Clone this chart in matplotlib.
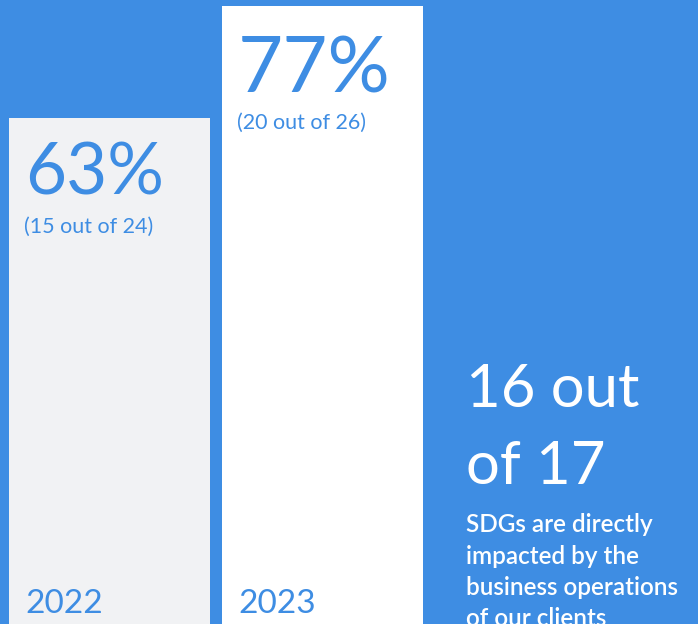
import matplotlib.pyplot as plt

# values
years = ["2022", "2023"]
shares = [63, 77]
counts = [15, 20]
totals = [24, 26]
headline = ["16 out", "of 17"]
body = ["SDGs are directly", "impacted by the",
        "business operations", "of our clients"]

blue = "#3e8de3"
bar_colors = ["#f1f2f4", "#ffffff"]
big_sizes = [51, 56]
big_offsets = [-76, -86]
small_offsets = [-114, -123]

plt.rcParams["font.family"] = ["Lato", "DejaVu Sans"]

fig = plt.figure(figsize=(6.98, 6.24), dpi=100)
fig.patch.set_facecolor(blue)
ax = fig.add_axes([0, 0, 1, 1])
ax.set_facecolor(blue)

width = 0.944
x = list(range(len(years)))
ax.bar(x, shares, width=width, color=bar_colors, zorder=1)
ax.set_xlim(-0.514, 2.763)
ax.set_ylim(0, 77.75)
ax.axis("off")

for i, (yr, s, c, t) in enumerate(zip(years, shares, counts, totals)):
    left = x[i] - width / 2
    ax.annotate(f"{s}%", xy=(left, s), xytext=(16, big_offsets[i]),
                textcoords="offset pixels", va="baseline", ha="left",
                fontsize=big_sizes[i], color=blue)
    ax.annotate(f"({c} out of {t})", xy=(left, s), xytext=(15, small_offsets[i]),
                textcoords="offset pixels", va="baseline", ha="left",
                fontsize=15.5, color=blue)
    ax.annotate(yr, xy=(left, 0), xytext=(16, 11),
                textcoords="offset pixels", va="baseline", ha="left",
                fontsize=24, color=blue)

# right-hand call-out
for k, line in enumerate(headline):
    ax.text(0.667, (624 - 407 - 77 * k) / 624, line, transform=ax.transAxes,
            va="baseline", ha="left", fontsize=43, color="white")
for k, line in enumerate(body):
    ax.text(0.667, (624 - 532 - 31.5 * k) / 624, line, transform=ax.transAxes,
            va="baseline", ha="left", fontsize=17.5, color="white",
            fontweight="semibold")

fig.savefig("out.png", dpi=100, facecolor=blue)
